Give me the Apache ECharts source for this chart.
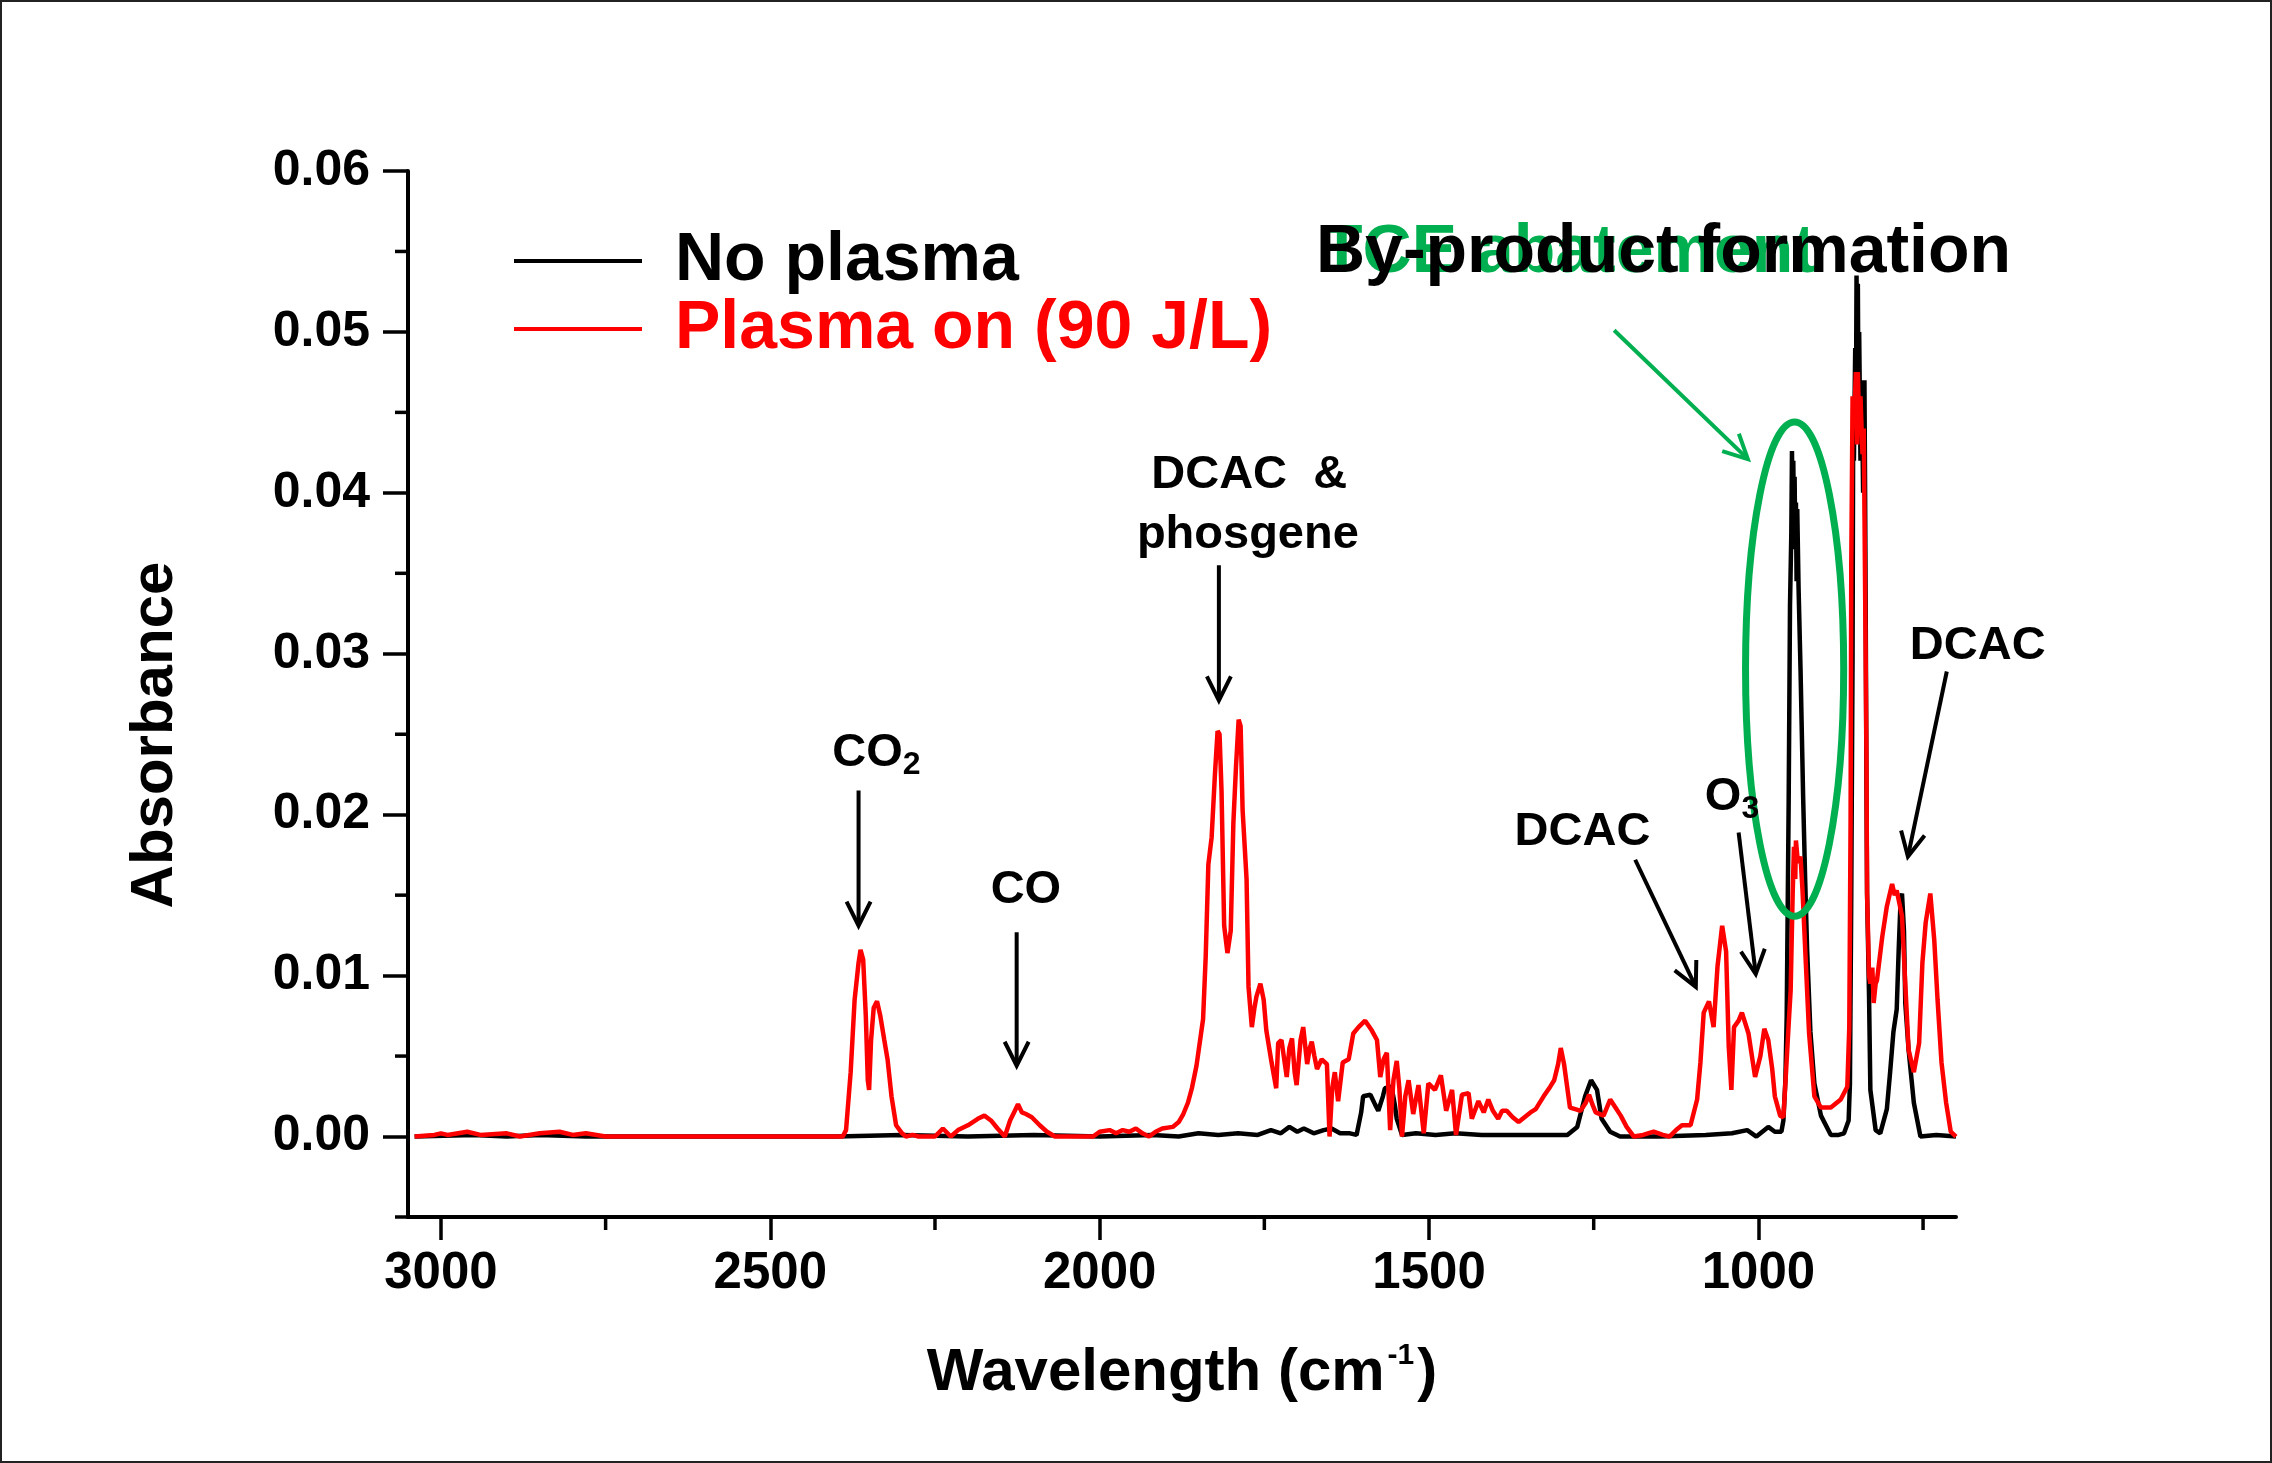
<!DOCTYPE html>
<html>
<head>
<meta charset="utf-8">
<script src="https://cdn.jsdelivr.net/npm/echarts@6/dist/echarts.min.js"></script>
<style>
  html, body { margin: 0; padding: 0; background: #fff; }
  #chart { width: 2272px; height: 1463px; }
</style>
</head>
<body>
<div id="chart"></div>
<script>
const FONT = '"Liberation Sans", Arial, Helvetica, sans-serif';
const GREEN = '#00B050';

// [wavenumber (cm-1), absorbance]
const noPlasma = [
  [3040, 0.0000], [2950, 0.0001], [2900, 0.0000], [2850, 0.0001], [2780, 0.0000],
  [2400, 0.0000], [2300, 0.0001], [2200, 0.0000], [2100, 0.0001], [2000, 0.0000],
  [1920, 0.0001], [1880, 0.0000], [1850, 0.0002], [1820, 0.0001], [1790, 0.0002],
  [1760, 0.0001], [1740, 0.0004], [1725, 0.0002], [1712, 0.0006], [1700, 0.0003],
  [1690, 0.0005], [1675, 0.0002], [1660, 0.0004], [1648, 0.0005], [1635, 0.0002],
  [1620, 0.0002], [1610, 0.0001], [1603, 0.0015], [1600, 0.0025], [1589, 0.0026],
  [1582, 0.0020], [1577, 0.0016], [1570, 0.0025], [1567, 0.0030], [1557, 0.0031],
  [1552, 0.0020], [1549, 0.0011], [1541, 0.0001], [1520, 0.0002], [1490, 0.0001],
  [1460, 0.0002], [1420, 0.0001], [1380, 0.0001], [1330, 0.0001], [1290, 0.0001],
  [1275, 0.0006], [1263, 0.0025], [1254, 0.0035], [1245, 0.0029], [1238, 0.0011],
  [1225, 0.0003], [1210, 0.0000], [1150, 0.0000], [1080, 0.0001], [1040, 0.0002],
  [1017, 0.0004], [1003, 0.0000], [985, 0.0006], [975, 0.0003], [965, 0.0003],
  [962, 0.0010], [959, 0.0035], [957, 0.0075], [954, 0.0209], [952, 0.0330],
  [950, 0.0375], [949, 0.0426], [948, 0.0385], [947, 0.0420], [946, 0.0378],
  [945, 0.0410], [944, 0.0365], [943, 0.0394], [942, 0.0345], [941, 0.0390],
  [939, 0.0341], [936, 0.0290], [932, 0.0210], [929, 0.0160], [926, 0.0116],
  [921, 0.0065], [915, 0.0033], [905, 0.0013], [890, 0.0001], [878, 0.0001],
  [870, 0.0002], [863, 0.0010], [861, 0.0033], [859, 0.0150], [857, 0.0300],
  [856, 0.0459], [855, 0.0420], [853, 0.0490], [852, 0.0440], [851, 0.0535],
  [850, 0.0470], [849, 0.0530], [848, 0.0450], [847, 0.0500], [845, 0.0420],
  [843, 0.0470], [841, 0.0400], [839, 0.0470], [838, 0.0400], [837, 0.0320],
  [836, 0.0220], [835, 0.0151], [832, 0.0087], [830, 0.0029], [822, 0.0004],
  [815, 0.0002], [805, 0.0017], [800, 0.0040], [795, 0.0065], [790, 0.0079],
  [787, 0.0116], [784, 0.0148], [782, 0.0151], [779, 0.0128], [777, 0.0083],
  [772, 0.0054], [764, 0.0021], [754, 0.0000], [730, 0.0001], [700, 0.0000]
];

const plasmaOn = [
  [3040, 0.0000], [3010, 0.0001], [3000, 0.0002], [2990, 0.0001], [2960, 0.0003],
  [2940, 0.0001], [2900, 0.0002], [2880, 0.0000], [2850, 0.0002], [2820, 0.0003],
  [2800, 0.0001], [2780, 0.0002], [2750, 0.0000], [2600, 0.0000], [2450, 0.0000],
  [2390, 0.0000], [2385, 0.0004], [2378, 0.0040], [2372, 0.0085], [2366, 0.0108],
  [2363, 0.0116], [2359, 0.0110], [2355, 0.0075], [2352, 0.0035], [2350, 0.0029],
  [2347, 0.0060], [2343, 0.0080], [2338, 0.0084], [2333, 0.0075], [2327, 0.0060],
  [2322, 0.0048], [2316, 0.0025], [2309, 0.0007], [2300, 0.0002], [2294, 0.0000],
  [2284, 0.0001], [2275, 0.0000], [2250, 0.0000], [2238, 0.0005], [2226, 0.0000],
  [2215, 0.0004], [2200, 0.0007], [2185, 0.0011], [2175, 0.0013], [2165, 0.0010],
  [2155, 0.0005], [2144, 0.0000], [2136, 0.0010], [2130, 0.0015], [2124, 0.0020],
  [2118, 0.0015], [2112, 0.0014], [2103, 0.0012], [2091, 0.0007], [2080, 0.0003],
  [2068, 0.0000], [2010, 0.0000], [2000, 0.0003], [1985, 0.0004], [1975, 0.0002],
  [1965, 0.0004], [1955, 0.0003], [1945, 0.0005], [1935, 0.0002], [1925, 0.0000],
  [1915, 0.0003], [1905, 0.0005], [1889, 0.0006], [1880, 0.0009], [1873, 0.0014],
  [1866, 0.0021], [1860, 0.0030], [1853, 0.0044], [1843, 0.0073], [1839, 0.0112],
  [1835, 0.0169], [1830, 0.0186], [1825, 0.0225], [1821, 0.0252], [1818, 0.0250],
  [1815, 0.0215], [1811, 0.0131], [1806, 0.0114], [1801, 0.0128], [1797, 0.0195],
  [1793, 0.0230], [1789, 0.0259], [1786, 0.0255], [1783, 0.0203], [1777, 0.0160],
  [1774, 0.0093], [1769, 0.0068], [1765, 0.0080], [1762, 0.0087], [1756, 0.0095],
  [1751, 0.0085], [1747, 0.0066], [1739, 0.0046], [1732, 0.0030], [1729, 0.0058],
  [1724, 0.0060], [1716, 0.0037], [1712, 0.0055], [1708, 0.0061], [1704, 0.0040],
  [1701, 0.0032], [1695, 0.0060], [1691, 0.0068], [1685, 0.0045], [1681, 0.0055],
  [1678, 0.0059], [1674, 0.0050], [1670, 0.0042], [1663, 0.0048], [1655, 0.0045],
  [1651, 0.0000], [1647, 0.0030], [1643, 0.0040], [1638, 0.0022], [1631, 0.0046],
  [1622, 0.0048], [1615, 0.0064], [1607, 0.0068], [1597, 0.0072], [1587, 0.0066],
  [1579, 0.0060], [1574, 0.0037], [1569, 0.0048], [1564, 0.0052], [1559, 0.0004],
  [1554, 0.0035], [1549, 0.0047], [1545, 0.0030], [1541, 0.0000], [1536, 0.0025],
  [1531, 0.0035], [1524, 0.0014], [1516, 0.0032], [1508, 0.0002], [1501, 0.0033],
  [1491, 0.0029], [1482, 0.0038], [1474, 0.0016], [1465, 0.0029], [1459, 0.0001],
  [1450, 0.0026], [1440, 0.0027], [1435, 0.0011], [1425, 0.0022], [1417, 0.0015],
  [1410, 0.0023], [1403, 0.0016], [1395, 0.0011], [1389, 0.0016], [1382, 0.0016],
  [1373, 0.0012], [1364, 0.0009], [1355, 0.0012], [1346, 0.0015], [1338, 0.0017],
  [1326, 0.0025], [1316, 0.0031], [1310, 0.0035], [1304, 0.0045], [1300, 0.0055],
  [1295, 0.0045], [1291, 0.0033], [1286, 0.0018], [1278, 0.0017], [1270, 0.0016],
  [1262, 0.0021], [1257, 0.0026], [1252, 0.0020], [1247, 0.0015], [1235, 0.0013],
  [1225, 0.0023], [1217, 0.0018], [1209, 0.0013], [1200, 0.0006], [1189, 0.0000],
  [1175, 0.0001], [1159, 0.0003], [1145, 0.0001], [1135, 0.0000], [1125, 0.0004],
  [1116, 0.0007], [1103, 0.0007], [1093, 0.0023], [1088, 0.0046], [1083, 0.0077],
  [1075, 0.0084], [1068, 0.0068], [1062, 0.0106], [1055, 0.0131], [1049, 0.0115],
  [1045, 0.0056], [1041, 0.0029], [1037, 0.0068], [1030, 0.0072], [1025, 0.0077],
  [1015, 0.0064], [1005, 0.0037], [997, 0.0050], [991, 0.0067], [985, 0.0060],
  [979, 0.0042], [975, 0.0025], [967, 0.0013], [962, 0.0012], [959, 0.0033],
  [954, 0.0070], [951, 0.0091], [948, 0.0150], [946, 0.0180], [944, 0.0160],
  [943, 0.0184], [940, 0.0170], [936, 0.0174], [933, 0.0153], [928, 0.0108],
  [923, 0.0064], [915, 0.0025], [905, 0.0018], [890, 0.0018], [875, 0.0023],
  [865, 0.0031], [862, 0.0068], [860, 0.0199], [859, 0.0354], [857, 0.0460],
  [855, 0.0440], [852, 0.0475], [850, 0.0430], [849, 0.0475], [847, 0.0440],
  [845, 0.0460], [842, 0.0424], [840, 0.0440], [838, 0.0342], [836, 0.0240],
  [835, 0.0151], [832, 0.0100], [830, 0.0095], [827, 0.0105], [825, 0.0083],
  [822, 0.0095], [820, 0.0097], [812, 0.0124], [805, 0.0143], [797, 0.0157],
  [793, 0.0150], [790, 0.0153], [782, 0.0137], [777, 0.0095], [772, 0.0054],
  [764, 0.0040], [756, 0.0058], [751, 0.0108], [746, 0.0133], [739, 0.0151],
  [733, 0.0122], [728, 0.0085], [722, 0.0046], [715, 0.0021], [708, 0.0003],
  [700, 0.0000]
];

const xMajorTicks = [3000, 2500, 2000, 1500, 1000];
const xMinorTicks = [2750, 2250, 1750, 1250, 750];
const yMajorTicks = [0, 0.01, 0.02, 0.03, 0.04, 0.05, 0.06];
const yMinorTicks = [-0.005, 0.005, 0.015, 0.025, 0.035, 0.045, 0.055];

// annotations, in data coordinates
const peakLabels = [
  { text: '{m|CO}{s|2}', at: [2339, 0.0238] },
  { text: '{m|CO}', at: [2112, 0.0153] },
  { text: '{m|DCAC  &}', at: [1773, 0.0411] },
  { text: '{m|phosgene}', at: [1775, 0.0374] },
  { text: '{m|DCAC}', at: [1267, 0.0189] },
  { text: '{m|O}{s|3}', at: [1040, 0.0211] },
  { text: '{m|DCAC}', at: [667, 0.0305] }
];
const arrows = [
  { from: [2366, 0.0215], to: [2366, 0.0131], color: '#000' },
  { from: [2126, 0.0127], to: [2126, 0.0044], color: '#000' },
  { from: [1819, 0.0355], to: [1819, 0.0271], color: '#000' },
  { from: [1187, 0.0172], to: [1095, 0.0093], color: '#000' },
  { from: [1030, 0.0189], to: [1004, 0.0101], color: '#000' },
  { from: [714, 0.0289], to: [773, 0.0174], color: '#000' },
  { from: [1219, 0.0501], to: [1016, 0.0421], color: GREEN }
];
const tceEllipse = { center: [945, 0.02905], halfWidth: 74.5, halfHeight: 0.01536 };

const chart = echarts.init(document.getElementById('chart'));

const labelFont = { fontFamily: FONT, fontWeight: 'bold', color: '#000' };
const tickStyle = { color: '#000', width: 3.5 };

chart.setOption({
  animation: false,
  backgroundColor: '#fff',
  title: [
    {
      text: 'TCE abatement', left: 1321, top: 219, padding: 0,
      textStyle: { color: GREEN, fontSize: 68, fontWeight: 'bold', fontFamily: FONT }
    },
    {
      text: 'By-product formation', left: 1316, top: 219, padding: 0,
      textStyle: { color: '#000', fontSize: 68, fontWeight: 'bold', fontFamily: FONT }
    }
  ],
  legend: {
    orient: 'vertical',
    left: 514,
    top: 227,
    padding: 0,
    icon: 'rect',
    itemWidth: 128,
    itemHeight: 4,
    itemGap: 0,
    textStyle: { fontSize: 68, fontWeight: 'bold', fontFamily: FONT, lineHeight: 68, padding: [0, 0, 0, 28] },
    data: [
      { name: 'No plasma', textStyle: { color: '#000' } },
      { name: 'Plasma on (90 J/L)', textStyle: { color: '#ff0000' } }
    ]
  },
  grid: { left: 408, right: 316, top: 171, bottom: 246, containLabel: false },
  xAxis: {
    type: 'value', min: 700, max: 3050, inverse: true, position: 'bottom',
    axisLine: { show: true, onZero: false, lineStyle: { color: '#000', width: 4 } },
    axisTick: { show: true, customValues: xMajorTicks, length: 23, lineStyle: tickStyle },
    axisLabel: Object.assign({
      customValues: xMajorTicks, margin: 31, fontSize: 51,
      formatter: v => String(v)
    }, labelFont),
    splitLine: { show: false },
    name: '{t|Wavelength (cm}{s|-1}{t|)}',
    nameLocation: 'middle',
    nameGap: 124,
    nameTextStyle: {
      rich: {
        t: { fontSize: 60, fontWeight: 'bold', fontFamily: FONT, color: '#000', lineHeight: 64 },
        s: { fontSize: 30, fontWeight: 'bold', fontFamily: FONT, color: '#000', verticalAlign: 'top', lineHeight: 30, padding: [0, 3, 0, 3] }
      }
    }
  },
  yAxis: {
    type: 'value', min: -0.005, max: 0.06, position: 'left',
    axisLine: { show: true, onZero: false, lineStyle: { color: '#000', width: 4 } },
    axisTick: { show: true, customValues: yMajorTicks, length: 25, lineStyle: tickStyle },
    axisLabel: Object.assign({
      customValues: yMajorTicks, margin: 38, fontSize: 50,
      formatter: v => v.toFixed(2)
    }, labelFont),
    splitLine: { show: false },
    name: 'Absorbance',
    nameLocation: 'middle',
    nameRotate: 90,
    nameGap: 223,
    nameTextStyle: { fontSize: 60, fontWeight: 'bold', fontFamily: FONT, color: '#000', padding: [0, 82, 0, 0] }
  },
  series: [
    {
      name: 'No plasma', type: 'line', data: noPlasma,
      symbol: 'none', sampling: null,
      lineStyle: { color: '#000', width: 4.5 },
      itemStyle: { color: '#000' }
    },
    {
      name: 'Plasma on (90 J/L)', type: 'line', data: plasmaOn,
      symbol: 'none', sampling: null,
      lineStyle: { color: '#ff0000', width: 4.5 },
      itemStyle: { color: '#ff0000' }
    }
  ]
});

// annotations drawn in pixel space, converted from data coordinates
const toPx = p => chart.convertToPixel({ seriesIndex: 0 }, p);
const graphics = [];

graphics.push({
  type: 'rect', z: 0, silent: true,
  shape: { x: 1, y: 1, width: 2270, height: 1461 },
  style: { fill: 'none', stroke: '#222', lineWidth: 2 }
});

// short minor ticks on both axes
const origin = toPx([3050, -0.005]);
yMinorTicks.forEach(v => {
  const y = toPx([3050, v])[1];
  graphics.push({
    type: 'line', z: 50, silent: true,
    shape: { x1: origin[0] - 13, y1: y, x2: origin[0], y2: y },
    style: { stroke: '#000', lineWidth: 3.5 }
  });
});
xMinorTicks.forEach(v => {
  const x = toPx([v, -0.005])[0];
  graphics.push({
    type: 'line', z: 50, silent: true,
    shape: { x1: x, y1: origin[1], x2: x, y2: origin[1] + 13 },
    style: { stroke: '#000', lineWidth: 3.5 }
  });
});

const c = toPx(tceEllipse.center);
const e = toPx([tceEllipse.center[0] - tceEllipse.halfWidth, tceEllipse.center[1] - tceEllipse.halfHeight]);
graphics.push({
  type: 'ellipse', z: 100,
  shape: { cx: c[0], cy: c[1], rx: Math.abs(e[0] - c[0]), ry: Math.abs(e[1] - c[1]) },
  style: { fill: 'none', stroke: GREEN, lineWidth: 7 }
});

const richStyle = {
  m: { fontSize: 47, fontWeight: 'bold', fontFamily: FONT, fill: '#000', lineHeight: 56 },
  s: { fontSize: 32, fontWeight: 'bold', fontFamily: FONT, fill: '#000', lineHeight: 22, verticalAlign: 'bottom' }
};
peakLabels.forEach(l => {
  const [x, y] = toPx(l.at);
  graphics.push({
    type: 'text', x: x, y: y, z: 102,
    style: { text: l.text, rich: richStyle, align: 'center', verticalAlign: 'middle', fill: '#000' }
  });
});

arrows.forEach(a => {
  const [x1, y1] = toPx(a.from);
  const [x2, y2] = toPx(a.to);
  const ang = Math.atan2(y2 - y1, x2 - x1);
  const headLen = 24, headHalf = 12;
  const bx = x2 - headLen * Math.cos(ang), by = y2 - headLen * Math.sin(ang);
  const nx = -Math.sin(ang) * headHalf, ny = Math.cos(ang) * headHalf;
  graphics.push({
    type: 'line', z: 102,
    shape: { x1: x1, y1: y1, x2: x2 - 2 * Math.cos(ang), y2: y2 - 2 * Math.sin(ang) },
    style: { stroke: a.color, lineWidth: 4 }
  });
  graphics.push({
    type: 'polyline', z: 102,
    shape: { points: [[bx + nx, by + ny], [x2, y2], [bx - nx, by - ny]] },
    style: { stroke: a.color, lineWidth: 4, fill: null }
  });
});

chart.setOption({ graphic: graphics });
</script>
</body>
</html>
